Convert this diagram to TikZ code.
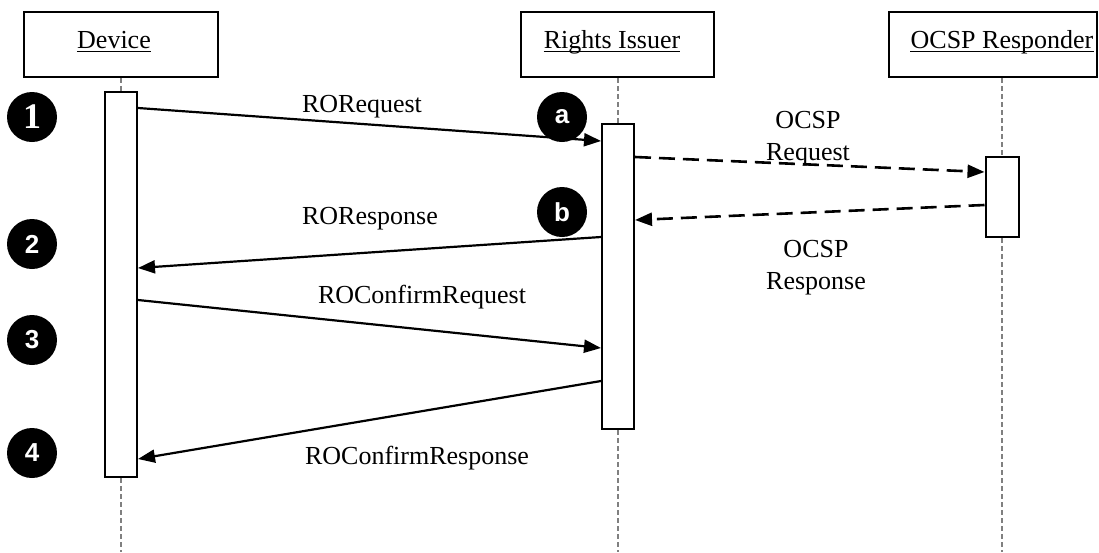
\documentclass[tikz,border=0pt]{standalone}
\usepackage{fontspec}
\setmainfont{Liberation Serif}
\newfontfamily\cirfont{Liberation Sans}
\usetikzlibrary{arrows.meta}
\begin{document}
\begin{tikzpicture}[x=1pt,y=-1pt,
  lbl/.style={font=\fontsize{26}{30}\selectfont, inner sep=0pt, anchor=base},
  headbox/.style={draw, line width=2pt, minimum height=65pt, inner sep=0pt},
  actbar/.style={draw, fill=white, line width=2pt, minimum width=32pt, inner sep=0pt},
  life/.style={draw=gray, line width=1.1pt, dash pattern=on 5pt off 3pt},
  msg/.style={line width=2.2pt, -{Triangle[length=17pt,width=13pt]}},
  rmsg/.style={msg, line width=2.6pt, dash pattern=on 16pt off 8pt},
  badge/.style={circle, fill=black, minimum size=50pt, inner sep=0pt, text=white, font=\cirfont\bfseries\fontsize{26}{26}\selectfont},
  ul/.style={line width=1pt}
]
\useasboundingbox (0,0) rectangle (1099,552);

% header boxes
\node[headbox, minimum width=194pt] (devbox) at (121,44.5) {};
\node[headbox, minimum width=193pt] (ribox) at (617.5,44.5) {};
\node[headbox, minimum width=208pt] (ocbox) at (993,44.5) {};

\node[lbl] (devt) at (114,48) {Device};
\node[lbl] (rit) at (612,48) {Rights Issuer};
\node[lbl] (oct) at (1002,48) {OCSP Responder};
\draw[ul] ([yshift=-3pt]devt.base west) -- ([yshift=-3pt]devt.base east);
\draw[ul] ([yshift=-3pt]rit.base west) -- ([yshift=-3pt]rit.base east);
\draw[ul] ([yshift=-3pt]oct.base west) -- ([yshift=-3pt]oct.base east);

% lifelines
\coordinate (devend) at (121,552);
\coordinate (riend) at (618,552);
\coordinate (ocend) at (1002,552);
\draw[life] (devbox.south) -- (devend);
\draw[life] (ribox.south -| riend) -- (riend);
\draw[life] (ocbox.south -| ocend) -- (ocend);

% activation bars
\node[actbar, minimum height=385pt] (devbar) at (121,284.5) {};
\node[actbar, minimum height=305pt] (ribar) at (618,276.5) {};
\node[actbar, minimum height=80pt, minimum width=33pt] (ocbar) at (1002,197) {};

% messages
\draw[msg] (devbar.east |- 0,108) -- (ribar.west |- 0,141);
\draw[rmsg] (ribar.east |- 0,157) -- (ocbar.west |- 0,172);
\draw[rmsg] (ocbar.west |- 0,205) -- (ribar.east |- 0,220);
\draw[msg] (ribar.west |- 0,237) -- (devbar.east |- 0,268);
\draw[msg] (devbar.east |- 0,300) -- (ribar.west |- 0,348);
\draw[msg] (ribar.west |- 0,381) -- (devbar.east |- 0,459);

% labels
\node[lbl] (l1) at (362,112) {RORequest};
\node[lbl] (l2) at (370,224) {ROResponse};
\node[lbl] (l3) at (422,303) {ROConfirmRequest};
\node[lbl] (l4) at (417,464) {ROConfirmResponse};
\node[lbl] (l5a) at (808,128) {OCSP};
\node[lbl] (l5b) at (808,160) {Request};
\node[lbl] (l6a) at (816,257) {OCSP};
\node[lbl] (l6b) at (816,289) {Response};

% badges
\node[badge, font=\bfseries\fontsize{36}{36}\selectfont] (c1) at (32,117) {1};
\node[badge] (c2) at (32,244) {2};
\node[badge] (c3) at (32,340) {3};
\node[badge] (c4) at (32,453) {4};
\node[badge] (ca) at (562,117) {a};
\node[badge] (cb) at (562,212) {b};
\end{tikzpicture}
\end{document}
